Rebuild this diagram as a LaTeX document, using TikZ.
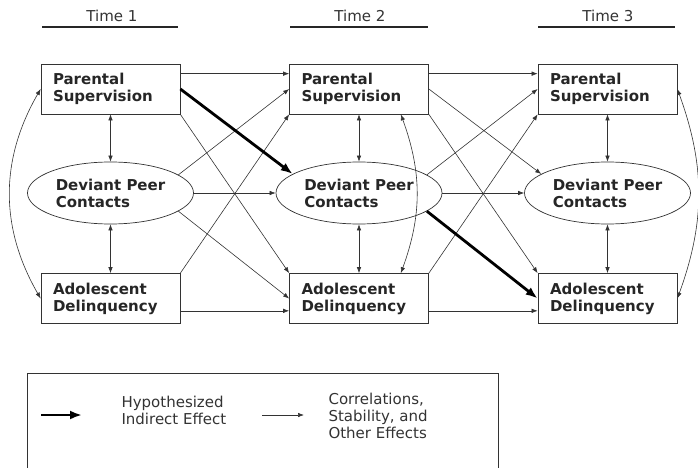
\documentclass[tikz,border=0pt]{standalone}
\usepackage{fontspec}
\setmainfont{DejaVu Sans}
\usepackage{tikz}
\usetikzlibrary{positioning,shapes.geometric,arrows.meta}

\tikzset{
  var/.style={draw=black!80, line width=0.7pt, minimum width=139pt, minimum height=50pt,
    text width=115pt, inner xsep=12pt, align=left, text=black!85,
    font=\bfseries\fontsize{15}{17}\selectfont},
  peer/.style={ellipse, draw=black!80, line width=0.7pt, minimum width=166pt, minimum height=62pt,
    inner sep=0pt, align=left, text=black!85, font=\bfseries\fontsize{15}{17}\selectfont},
  eff/.style={-{Latex[length=6pt,width=4.5pt]}, line width=0.6pt, color=black!80},
  cor/.style={{Latex[length=6pt,width=4.5pt]}-{Latex[length=6pt,width=4.5pt]}, line width=0.6pt, color=black!80},
  ind/.style={-{Latex[length=12pt,width=9pt]}, line width=2.8pt},
  lbl/.style={text=black!80, font=\fontsize{15}{17}\selectfont, align=left},
}

\begin{document}
\begin{tikzpicture}[x=1pt,y=1pt,node distance=248.5pt,on grid]
      \useasboundingbox (0,0) rectangle (698,-468);
      % time headers
      \node[lbl] (t1) at (112,-16) {Time 1};
      \node[lbl] (t2) at (360,-16) {Time 2};
      \node[lbl] (t3) at (608,-16) {Time 3};
      \draw[line width=1.8pt, black!85] (42,-27) -- (178,-27) (290,-27) -- (428,-27) (538,-27) -- (675,-27);
      % variables
      \node[var] (ps1) at (110.5,-89) {Parental\\Supervision};
      \node[var] (ps2) [right=of ps1] {Parental\\Supervision};
      \node[var] (ps3) [right=of ps2] {Parental\\Supervision};
      \node[peer] (dpc1) [below=104pt of ps1] {Deviant Peer\\Contacts};
      \node[peer] (dpc2) [below=104pt of ps2] {Deviant Peer\\Contacts};
      \node[peer] (dpc3) [below=104pt of ps3] {Deviant Peer\\Contacts};
      \node[var] (ad1) [below=105.5pt of dpc1] {Adolescent\\Delinquency};
      \node[var] (ad2) [below=105.5pt of dpc2] {Adolescent\\Delinquency};
      \node[var] (ad3) [below=105.5pt of dpc3] {Adolescent\\Delinquency};
      % correlations within time
      \path[cor]
        (ps1) edge (dpc1) (dpc1) edge (ad1)
        (ps2) edge (dpc2) (dpc2) edge (ad2)
        (ps3) edge (dpc3) (dpc3) edge (ad3)
        (ps1.west) edge [out=240,in=120] (ad1.west)
        ([xshift=-28pt]ps2.south east) edge [out=-70,in=70] ([xshift=-28pt]ad2.north east)
        (ps3.east) edge [out=-70,in=70] (ad3.east);
      % time 1 to time 2
      \path[eff]
        ([yshift=-10pt]ps1.north east) edge ([yshift=-10pt]ps2.north west)
        (ps1.south east) edge (ad2.north west)
        (dpc1.15) edge (ps2.west)
        (dpc1) edge (dpc2)
        (dpc1.-15) edge (ad2.west)
        (ad1.north east) edge (ps2.south west)
        ([yshift=13pt]ad1.south east) edge ([yshift=13pt]ad2.south west);
      \draw[ind] (ps1.east) -- (dpc2.164);
      % time 2 to time 3
      \path[eff]
        ([yshift=-10pt]ps2.north east) edge ([yshift=-10pt]ps3.north west)
        (ps2.east) edge (dpc3.164)
        (ps2.south east) edge (ad3.north west)
        (dpc2.15) edge (ps3.west)
        (dpc2) edge (dpc3)
        (ad2.north east) edge (ps3.south west)
        ([yshift=13pt]ad2.south east) edge ([yshift=13pt]ad3.south west);
      \draw[ind] (dpc2.-15) -- (ad3.west);
      % legend
      \draw[line width=0.7pt, black!80] (27,-468) |- (498,-373) -- (498,-468);
      \coordinate (k1) at (41,-415);
      \coordinate (k2) at (82,-415);
      \coordinate (k3) at (262,-415);
      \coordinate (k4) at (304,-415);
      \draw[ind, line width=2.4pt] (k1) -- (k2);
      \draw[eff] (k3) -- (k4);
      \node[lbl, anchor=west] (hyp) at (118,-410) {Hypothesized\\Indirect Effect};
      \node[lbl, anchor=west] (oth) at (325,-416) {Correlations,\\Stability, and\\Other Effects};
\end{tikzpicture}
\end{document}
